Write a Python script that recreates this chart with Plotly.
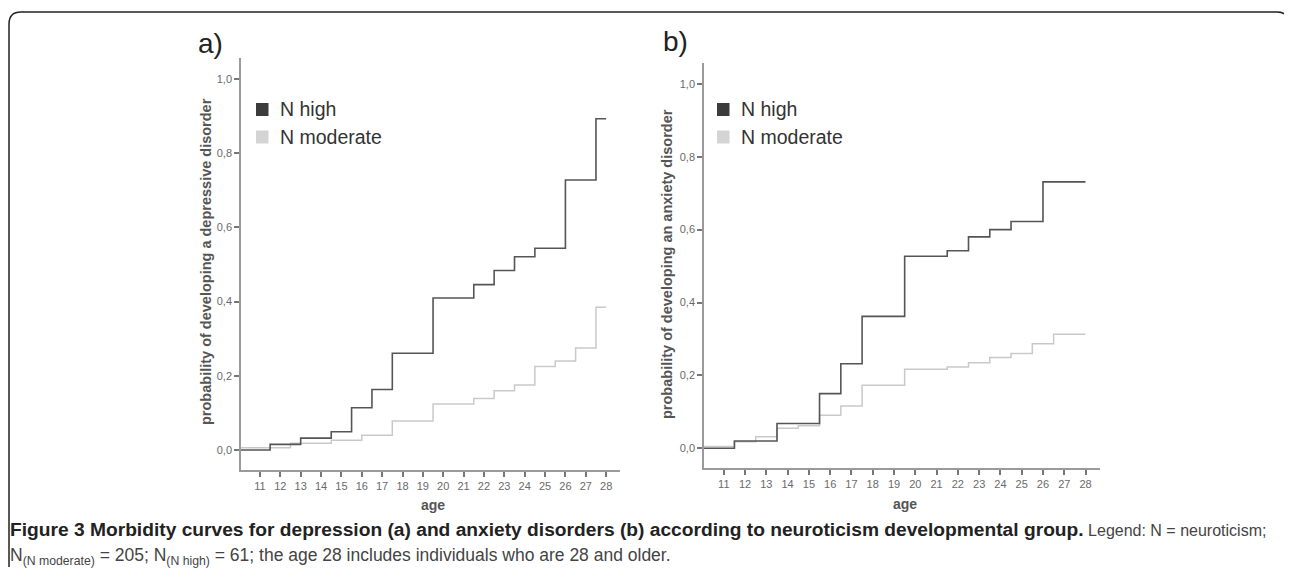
import plotly.graph_objects as go

# ---------------- data ----------------
ages_a_high = [10, 11.5, 13.0, 14.5, 15.5, 16.5, 17.5, 19.5, 21.5, 22.5, 23.5, 24.5, 26.0, 27.5, 28]
prob_a_high = [0.0, 0.015, 0.032, 0.049, 0.114, 0.163, 0.261, 0.410, 0.446, 0.484, 0.521, 0.544, 0.728, 0.893, 0.893]
ages_a_mod = [10, 12.5, 14.5, 16.0, 17.5, 19.5, 21.5, 22.5, 23.5, 24.5, 25.5, 26.5, 27.5, 28]
prob_a_mod = [0.006, 0.018, 0.026, 0.040, 0.078, 0.124, 0.139, 0.160, 0.175, 0.225, 0.240, 0.275, 0.385, 0.385]

ages_b_high = [10, 11.5, 13.5, 15.5, 16.5, 17.5, 19.5, 21.5, 22.5, 23.5, 24.5, 26.0, 28]
prob_b_high = [0.0, 0.020, 0.068, 0.150, 0.232, 0.362, 0.527, 0.542, 0.580, 0.600, 0.622, 0.731, 0.731]
ages_b_mod = [10, 11.5, 12.5, 13.5, 14.5, 15.5, 16.5, 17.5, 19.5, 21.5, 22.5, 23.5, 24.5, 25.5, 26.5, 28]
prob_b_mod = [0.005, 0.018, 0.032, 0.055, 0.062, 0.091, 0.116, 0.173, 0.217, 0.223, 0.235, 0.249, 0.260, 0.287, 0.313, 0.313]

x_ticks = list(range(11, 29))
y_tickvals = [0.0, 0.2, 0.4, 0.6, 0.8, 1.0]
y_ticktext = ["0,0", "0,2", "0,4", "0,6", "0,8", "1,0"]
group_names = ["N high", "N moderate"]

# page body has an 8px margin: figure is drawn from (8, 8)
OFF = 8
W, H = 1292 - OFF, 581 - OFF
DARK = "#555555"
LIGHT = "#c9c9c9"
AX = "#9a9a9a"
TXT = "#6a6a6a"
FONT = "Liberation Sans, Arial, sans-serif"


def px(x):
    return (x - OFF) / W


def py(y):
    return 1 - (y - OFF) / H


fig = go.Figure()
fig.add_trace(go.Scatter(x=ages_a_mod, y=prob_a_mod, mode="lines", line=dict(shape="hv", color=LIGHT, width=1.5),
                         xaxis="x", yaxis="y", showlegend=False))
fig.add_trace(go.Scatter(x=ages_a_high, y=prob_a_high, mode="lines", line=dict(shape="hv", color=DARK, width=1.6),
                         xaxis="x", yaxis="y", showlegend=False))
fig.add_trace(go.Scatter(x=ages_b_mod, y=prob_b_mod, mode="lines", line=dict(shape="hv", color=LIGHT, width=1.5),
                         xaxis="x2", yaxis="y2", showlegend=False))
fig.add_trace(go.Scatter(x=ages_b_high, y=prob_b_high, mode="lines", line=dict(shape="hv", color=DARK, width=1.6),
                         xaxis="x2", yaxis="y2", showlegend=False))

xcommon = dict(range=[10.07, 28.68], tickvals=x_ticks, ticktext=[str(t) for t in x_ticks],
               showline=True, linecolor=AX, linewidth=1.5, ticks="outside", ticklen=5, tickwidth=1.5,
               tickcolor="#777", showgrid=False, zeroline=False,
               tickfont=dict(family=FONT, size=11, color=TXT))
ycommon = dict(range=[-0.054, 1.057], tickvals=y_tickvals, ticktext=y_ticktext,
               showline=True, linecolor=AX, linewidth=1.5, ticks="outside", ticklen=5, tickwidth=1.5,
               tickcolor="#777", showgrid=False, zeroline=False,
               tickfont=dict(family=FONT, size=11, color=TXT))

fig.update_layout(
    width=W, height=H,
    margin=dict(l=0, r=0, t=0, b=0),
    paper_bgcolor="white", plot_bgcolor="white",
    xaxis=dict(domain=[px(241), px(620)], anchor="y", **xcommon),
    yaxis=dict(domain=[py(470), py(58)], anchor="x", **ycommon),
    xaxis2=dict(domain=[px(704), px(1100)], anchor="y2", **xcommon),
    yaxis2=dict(domain=[py(468), py(63)], anchor="x2", **ycommon),
    showlegend=False,
)

ann = []
shapes = []
# panel letters
ann.append(dict(x=px(196), y=py(44), xref="paper", yref="paper", text="a)", showarrow=False,
                xanchor="left", yanchor="middle", font=dict(family=FONT, size=28, color="#222")))
ann.append(dict(x=px(661), y=py(42), xref="paper", yref="paper", text="b)", showarrow=False,
                xanchor="left", yanchor="middle", font=dict(family=FONT, size=28, color="#222")))
# y titles
ann.append(dict(x=px(206), y=py(262), xref="paper", yref="paper", text="<b>probability of developing a depressive disorder</b>",
                textangle=-90, showarrow=False, xanchor="center", yanchor="middle",
                font=dict(family=FONT, size=14.5, color="#555")))
ann.append(dict(x=px(667), y=py(264), xref="paper", yref="paper", text="<b>probability of developing an anxiety disorder</b>",
                textangle=-90, showarrow=False, xanchor="center", yanchor="middle",
                font=dict(family=FONT, size=14.5, color="#555")))
# x titles
ann.append(dict(x=px(433), y=py(505), xref="paper", yref="paper", text="<b>age</b>", showarrow=False,
                xanchor="center", yanchor="middle", font=dict(family=FONT, size=14, color="#555")))
ann.append(dict(x=px(905), y=py(504), xref="paper", yref="paper", text="<b>age</b>", showarrow=False,
                xanchor="center", yanchor="middle", font=dict(family=FONT, size=14, color="#555")))

# legends
for lx in (256, 717):
    for i, (name, col) in enumerate(zip(group_names, ["#3c3c3c", "#d4d4d4"])):
        cy = 109.5 + i * 27.5
        shapes.append(dict(type="rect", xref="paper", yref="paper", x0=px(lx), x1=px(lx + 12.5),
                           y0=py(cy + 6.5), y1=py(cy - 6.5), fillcolor=col, line=dict(width=0)))
        ann.append(dict(x=px(lx + 22), y=py(cy), xref="paper", yref="paper", text=name, showarrow=False,
                        xanchor="left", yanchor="middle", font=dict(family=FONT, size=19.5, color="#333")))

# caption
ann.append(dict(x=px(8), y=py(529), xref="paper", yref="paper",
                text="<b>Figure 3 Morbidity curves for depression (a) and anxiety disorders (b) according to neuroticism developmental group.</b>"
                     "<span style='color:#444;font-size:16px'> Legend: N = neuroticism;</span>",
                showarrow=False, xanchor="left", yanchor="middle", font=dict(family=FONT, size=19.2, color="#222")))
ann.append(dict(x=px(8), y=py(556), xref="paper", yref="paper",
                text="N<sub>(N moderate)</sub> = 205; N<sub>(N high)</sub> = 61; the age 28 includes individuals who are 28 and older.",
                showarrow=False, xanchor="left", yanchor="middle", font=dict(family=FONT, size=17.5, color="#444")))

# rounded frame
x0, x1, y0, y1, r = px(9), px(1289), py(12), py(567), 12
rx, ry = r / W, r / H
path = (f"M {x0},{y1} L {x0},{y0 - ry} Q {x0},{y0} {x0 + rx},{y0} L {x1 - rx},{y0} "
        f"Q {x1},{y0} {x1},{y0 - ry} L {x1},{y1}")
shapes.append(dict(type="path", xref="paper", yref="paper", path=path, line=dict(color="#222", width=1.5)))

fig.update_layout(annotations=ann, shapes=shapes)
fig.write_html("out.html")
